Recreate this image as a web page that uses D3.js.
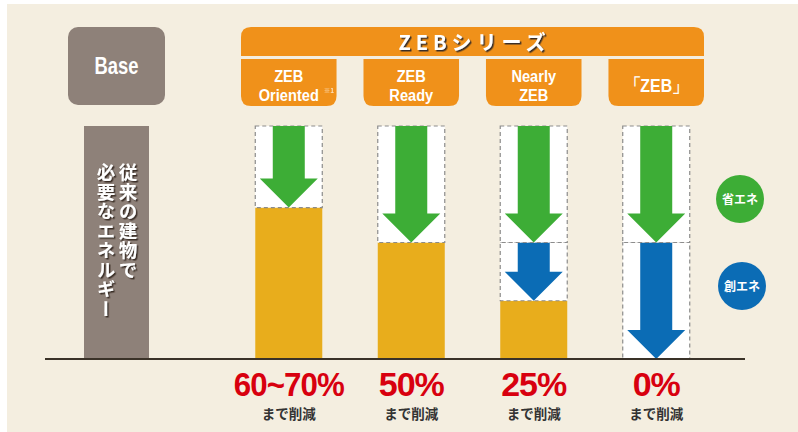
<!DOCTYPE html>
<html>
<head>
<meta charset="utf-8">
<script src="https://cdn.jsdelivr.net/npm/d3@7"></script>
<style>
  body { margin: 0; background: #fff; }
  svg { display: block; }
  .narrow { font-family: "Liberation Sans", Arial, sans-serif; font-weight: bold; }
  .jp { font-family: "Noto Sans CJK JP", sans-serif; font-weight: bold; }
</style>
</head>
<body>
<svg width="798" height="432"></svg>
<script>
// Chart data
var categories = ['ZEB Oriented', 'ZEB Ready', 'Nearly ZEB', '「ZEB」'];
var labelLines = [['ZEB', 'Oriented'], ['ZEB', 'Ready'], ['Nearly', 'ZEB'], ['「ZEB」']];
var remaining = [65, 50, 25, 0];     // energy still used (% of base)
var saving = [35, 50, 50, 50];       // 省エネ (green)
var creation = [0, 0, 25, 50];       // 創エネ (blue)
var reductionLabels = ['60~70%', '50%', '25%', '0%'];
var baseValue = 100;
var legendItems = [{name: '省エネ', key: 'saving'}, {name: '創エネ', key: 'creation'}];

var colors = {
    bg: '#f4eee0', base: '#8e8179', orange: '#f0911a', bar: '#e8ad1c',
    saving: '#3dad36', creation: '#0b6cb5', red: '#d8000f', line: '#3a3228'
};

var svg = d3.select('svg');
var svgWidth = +svg.attr('width');
var svgHeight = +svg.attr('height');

// drop shadow used for the white title texts
svg.append('defs').append('filter')
    .attr('id', 'shadow')
    .attr('x', '-10%').attr('y', '-10%').attr('width', '130%').attr('height', '130%')
    .append('feDropShadow')
    .attr('dx', 1.5).attr('dy', 1.5)
    .attr('stdDeviation', 0.3)
    .attr('flood-color', '#3a2e26');

svg.append('rect')
    .attr('x', 7).attr('y', 4)
    .attr('width', svgWidth - 7).attr('height', svgHeight - 4)
    .attr('fill', colors.bg);

// Scales
var x = d3.scaleBand().domain(categories).range([241, 704]).paddingInner(0.22);
var y = d3.scaleLinear().domain([0, 100]).range([359, 126]);
var barW = 67;
var baseX = 116.5;

var data = categories.map(function(c, i) {
    return {name: c, lines: labelLines[i], remaining: remaining[i], saving: saving[i],
        creation: creation[i], label: reductionLabels[i]};
});
function cx(d) { return x(d.name) + x.bandwidth() / 2; }

// Header: Base box
svg.append('rect')
    .attr('x', baseX - 48.5).attr('y', 27)
    .attr('width', 97).attr('height', 78)
    .attr('rx', 10)
    .attr('fill', colors.base);
svg.append('text')
    .attr('class', 'narrow')
    .attr('transform', 'translate(' + [baseX, 74] + ') scale(0.8,1)')
    .attr('text-anchor', 'middle')
    .attr('font-size', 23)
    .attr('fill', '#fff')
    .text('Base');

// Header: ZEB series bar (rounded top only)
var hx0 = x.range()[0], hx1 = x.range()[1], hy0 = 27, hy1 = 56, r = 10;
svg.append('path')
    .attr('d', 'M' + hx0 + ',' + hy1 + 'V' + (hy0 + r) + 'Q' + hx0 + ',' + hy0 + ' ' + (hx0 + r) + ',' + hy0 +
        'H' + (hx1 - r) + 'Q' + hx1 + ',' + hy0 + ' ' + hx1 + ',' + (hy0 + r) + 'V' + hy1 + 'Z')
    .attr('fill', colors.orange);
svg.append('text')
    .attr('class', 'jp')
    .attr('x', (hx0 + hx1) / 2 + 2).attr('y', 50)
    .attr('font-size', 20).attr('letter-spacing', 5)
    .attr('text-anchor', 'middle').attr('fill', '#fff')
    .attr('filter', 'url(#shadow)')
    .text('ZEBシリーズ');

// Header: sub boxes (rounded bottom only)
var subY0 = 59, subY1 = 106;
var sub = svg.selectAll('.sub').data(data).enter().append('g').attr('class', 'sub');
sub.append('path')
    .attr('d', function(d) {
        var a = x(d.name), b = a + x.bandwidth();
        return 'M' + a + ',' + subY0 + 'H' + b + 'V' + (subY1 - r) + 'Q' + b + ',' + subY1 + ' ' + (b - r) + ',' + subY1 +
            'H' + (a + r) + 'Q' + a + ',' + subY1 + ' ' + a + ',' + (subY1 - r) + 'Z';
    })
    .attr('fill', colors.orange);
sub.each(function(d) {
    var g = d3.select(this);
    var ys = d.lines.length === 1 ? [92] : [82, 101];
    d.lines.forEach(function(line, k) {
        g.append('text')
            .attr('class', 'narrow')
            .attr('transform', 'translate(' + [cx(d), ys[k]] + ') scale(0.86,1)')
            .attr('text-anchor', 'middle')
            .attr('font-size', d.lines.length === 1 ? 18.5 : 17)
            .attr('fill', '#fff')
            .text(line);
    });
});
// footnote mark on the first box
svg.append('text')
    .attr('class', 'jp')
    .attr('x', cx(data[0]) + 35).attr('y', 93)
    .attr('font-size', 6.5)
    .attr('fill', '#fff').attr('opacity', 0.7)
    .text('※1');

// Base bar
svg.append('rect')
    .attr('x', baseX - 32.5).attr('y', y(baseValue))
    .attr('width', 65).attr('height', y(0) - y(baseValue))
    .attr('fill', colors.base);

var baseText = svg.append('g').attr('class', 'jp').attr('font-size', 18.5)
    .attr('fill', '#fff').attr('filter', 'url(#shadow)')
    .style('writing-mode', 'vertical-rl').style('text-orientation', 'upright');
baseText.append('text')
    .attr('x', 128).attr('y', 163)
    .attr('letter-spacing', 1)
    .text('従来の建物で');
baseText.append('text')
    .attr('x', 106).attr('y', 163)
    .attr('letter-spacing', 1)
    .text('必要なエネルギー');

// ZEB bars
var bars = svg.selectAll('.bar').data(data).enter().append('g').attr('class', 'bar');

// remaining energy
bars.append('rect')
    .attr('x', function(d) { return cx(d) - barW / 2; })
    .attr('y', function(d) { return y(d.remaining); })
    .attr('width', barW)
    .attr('height', function(d) { return y(0) - y(d.remaining); })
    .attr('fill', colors.bar);

// reduction sections (white with dashed border) + arrows
function sections(d) {
    var out = [];
    var lo = d.remaining;
    if (d.creation > 0) {
        out.push({key: 'creation', lo: lo, hi: lo + d.creation, cx: cx(d)});
        lo += d.creation;
    }
    out.push({key: 'saving', lo: lo, hi: lo + d.saving, cx: cx(d)});
    return out;
}
var sec = bars.selectAll('.sec').data(sections).enter().append('g').attr('class', 'sec');
sec.append('rect')
    .attr('x', function(s) { return s.cx - barW / 2; })
    .attr('y', function(s) { return y(s.hi); })
    .attr('width', barW)
    .attr('height', function(s) { return y(s.lo) - y(s.hi); })
    .attr('fill', '#fff')
    .attr('stroke', '#8c8c8c')
    .attr('stroke-width', 1.2)
    .attr('stroke-dasharray', '4,3');

var shaftW = 32, headW = 58, headH = 29;
sec.append('path')
    .attr('d', function(s) {
        var top = y(s.hi), tip = y(s.lo), hs = tip - headH;
        return 'M' + (s.cx - shaftW / 2) + ',' + top + 'H' + (s.cx + shaftW / 2) + 'V' + hs +
            'H' + (s.cx + headW / 2) + 'L' + s.cx + ',' + tip + 'L' + (s.cx - headW / 2) + ',' + hs +
            'H' + (s.cx - shaftW / 2) + 'Z';
    })
    .attr('fill', function(s) { return colors[s.key]; });

// baseline
svg.append('line')
    .attr('x1', 45).attr('x2', 745)
    .attr('y1', y(0)).attr('y2', y(0))
    .attr('stroke', colors.line)
    .attr('stroke-width', 2);

// reduction labels
var labels = svg.selectAll('.rlabel').data(data).enter().append('g').attr('class', 'rlabel');
labels.append('text')
    .attr('x', cx)
    .attr('y', 396)
    .attr('text-anchor', 'middle')
    .attr('font-family', '"Liberation Sans", Arial, sans-serif')
    .attr('font-weight', 'bold')
    .attr('font-size', 34)
    .attr('letter-spacing', -1)
    .attr('fill', colors.red)
    .each(function(d) {
        if (d.label.length > 4) {
            d3.select(this).attr('textLength', 110).attr('lengthAdjust', 'spacingAndGlyphs');
        }
    })
    .text(function(d) { return d.label; });
labels.append('text')
    .attr('class', 'jp')
    .attr('x', cx)
    .attr('y', 419)
    .attr('text-anchor', 'middle')
    .attr('font-size', 13.5)
    .attr('fill', '#333')
    .text('まで削減');

// legend
var legend = svg.selectAll('.legend').data(legendItems).enter().append('g')
    .attr('class', 'legend')
    .attr('transform', function(d, i) { return 'translate(' + [740 + i * 2, 199 + i * 87] + ')'; });
legend.append('circle')
    .attr('r', 24)
    .attr('fill', function(d) { return colors[d.key]; });
legend.append('text')
    .attr('class', 'jp')
    .attr('y', 4.5)
    .attr('text-anchor', 'middle')
    .attr('font-size', 12)
    .attr('fill', '#fff')
    .text(function(d) { return d.name; });
</script>
</body>
</html>
